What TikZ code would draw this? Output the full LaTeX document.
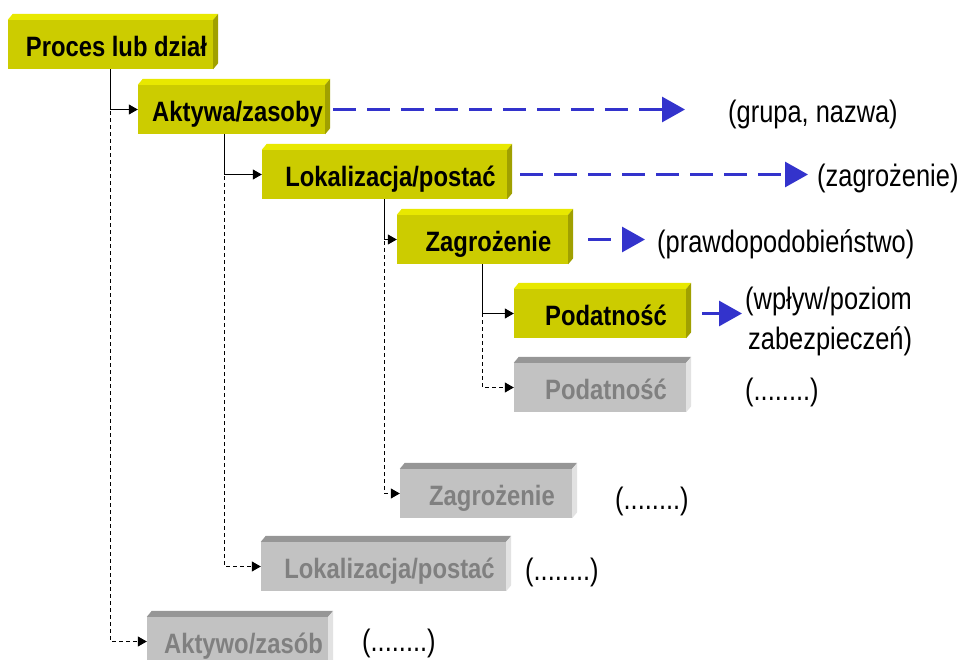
\documentclass[tikz,border=0pt]{standalone}
\usepackage{fontspec}
\usepackage{xcolor}
\usetikzlibrary{arrows.meta}
\newfontfamily\boxfont{Liberation Sans}[FakeStretch=0.85]
\newfontfamily\labfont{Liberation Sans}[FakeStretch=0.82]
\definecolor{yelfront}{RGB}{204,204,0}
\definecolor{yeltop}{RGB}{232,232,0}
\definecolor{yelside}{RGB}{160,160,0}
\definecolor{greyfront}{RGB}{194,194,194}
\definecolor{greytop}{RGB}{150,150,150}
\definecolor{greyside}{RGB}{226,226,226}
\definecolor{greytext}{RGB}{128,128,128}
\definecolor{flowblue}{RGB}{51,51,204}
\tikzstyle{boxes} = [rectangle, minimum height=49pt, inner sep=0pt, text centered,
text height=24pt, text depth=0pt, execute at begin node={\hspace*{12pt}},
font=\boxfont\bfseries\fontsize{28}{32}\selectfont]
\tikzstyle{yelbox} = [boxes, fill=yelfront, text=black]
\tikzstyle{greybox} = [boxes, fill=greyfront, text=greytext]
\tikzstyle{labels} = [anchor=west, inner sep=0pt, align=left, font=\labfont\fontsize{31}{40}\selectfont]
\tikzstyle{arrow} = [line width=1pt, -{Triangle[length=9pt,width=10pt]}]
\tikzstyle{dasharrow} = [arrow, dash pattern=on 4pt off 3pt]
\tikzstyle{flow} = [line width=3pt, draw=flowblue, dash pattern=on 23pt off 11pt,
-{Triangle[length=23pt,width=25pt]}]

\begin{document}
\begin{tikzpicture}[node distance=65pt]
        \useasboundingbox (0,0) rectangle (964pt,-659pt);

        \node[yelbox, minimum width=205pt] (proces) at (110.5pt,-44.5pt) {Proces lub dział};
        \node[yelbox, minimum width=187pt, below of=proces, xshift=121pt] (aktywa) {Aktywa/zasoby};
        \node[yelbox, minimum width=245pt, below of=aktywa, xshift=153pt] (lok) {Lokalizacja/postać};
        \node[yelbox, minimum width=171pt, below of=lok, xshift=98pt] (zag) {Zagrożenie};
        \node[yelbox, minimum width=172pt, below of=zag, xshift=117.5pt, yshift=-9pt] (pod) {Podatność};
        \node[greybox, minimum width=172pt, below of=pod, yshift=-9pt] (podb) {Podatność};
        \node[greybox, minimum width=172pt, below of=podb, xshift=-114pt, yshift=-41pt] (zagb) {Zagrożenie};
        \node[greybox, minimum width=245pt, below of=zagb, xshift=-102.5pt, yshift=-8pt] (lokb) {Lokalizacja/postać};
        \node[greybox, minimum width=181pt, below of=lokb, xshift=-146pt, yshift=-10pt] (aktywob) {Aktywo/zasób};

        % top and side faces
        \foreach \n in {proces,aktywa,lok,zag,pod} {
            \fill[yeltop] (\n.north west) -- ++(5pt,6pt) -- ([shift={(5pt,6pt)}]\n.north east) -- (\n.north east) -- cycle;
            \fill[yelside] (\n.north east) -- ++(5pt,6pt) -- ([shift={(5pt,6pt)}]\n.south east) -- (\n.south east) -- cycle;
        }
        \foreach \n in {podb,zagb,lokb,aktywob} {
            \fill[greytop] (\n.north west) -- ++(5pt,6pt) -- ([shift={(5pt,6pt)}]\n.north east) -- (\n.north east) -- cycle;
            \fill[greyside] (\n.north east) -- ++(5pt,6pt) -- ([shift={(5pt,6pt)}]\n.south east) -- (\n.south east) -- cycle;
        }

        \node[labels] (grupa) at (728pt,-114pt) {(grupa, nazwa)};
        \node[labels] (zagr) at (817pt,-178pt) {(zagrożenie)};
        \node[labels] (prawdo) at (657pt,-244pt) {(prawdopodobieństwo)};
        \node[labels] (wplyw) at (745pt,-321pt) {(wpływ/poziom\\\hspace*{3pt}zabezpieczeń)};
        \node[labels] (dotsa) at (745pt,-392pt) {(........)};
        \node[labels] (dotsb) at (615pt,-501pt) {(........)};
        \node[labels] (dotsc) at (525pt,-572pt) {(........)};
        \node[labels] (dotsd) at (362pt,-643pt) {(........)};

        \draw[flow, shorten <=8pt, shorten >=43pt] (aktywa.east) -- (aktywa.east -| grupa.west);
        \draw[flow, shorten <=13pt, shorten >=9pt] (lok.east) -- (lok.east -| zagr.west);
        \draw[flow, shorten <=20pt, shorten >=12pt] (zag.east) -- (zag.east -| prawdo.west);
        \draw[flow, shorten <=16pt, shorten >=3pt] (pod.east) -- (pod.east -| wplyw.west);

        \draw[dasharrow] (proces.south) |- (aktywob.west);
        \draw[dasharrow] ([xshift=-7pt]aktywa.south) |- (lokb.west);
        \draw[dasharrow] (lok.south) |- (zagb.west);
        \draw[dasharrow] (zag.south) |- (podb.west);

        \draw[arrow] (proces.south) |- (aktywa.west);
        \draw[arrow] ([xshift=-7pt]aktywa.south) |- (lok.west);
        \draw[arrow] (lok.south) |- (zag.west);
        \draw[arrow] (zag.south) |- (pod.west);

    \end{tikzpicture}
\end{document}
